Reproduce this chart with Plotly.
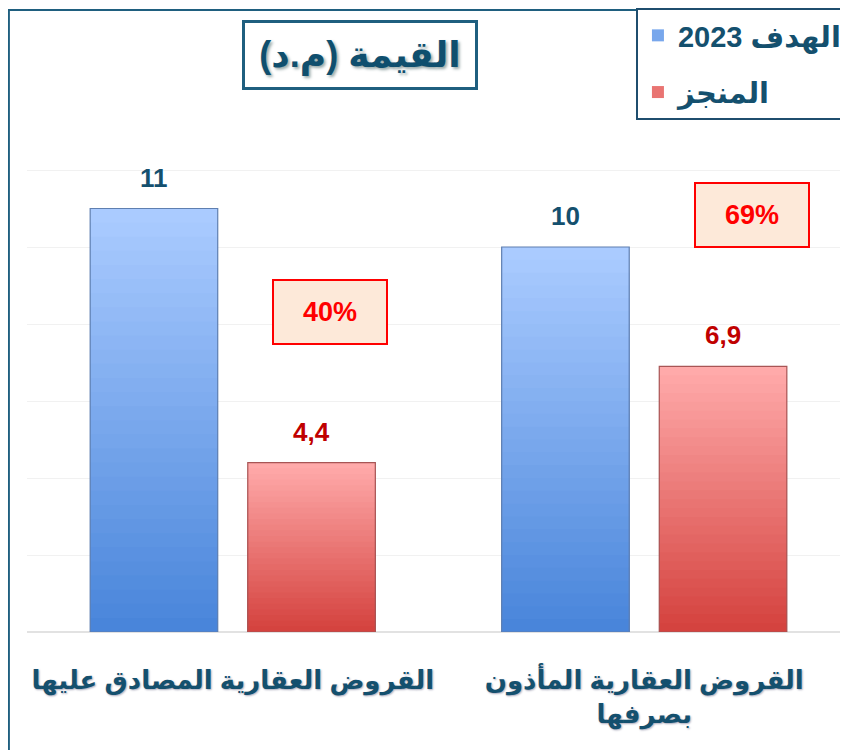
import plotly.graph_objects as go

# ---- data ----
categories = ["القروض العقارية المصادق عليها", "القروض العقارية المأذون<br>بصرفها"]
target_name = "الهدف 2023"
achieved_name = "المنجز"
target_values = [11, 10]
achieved_values = [4.4, 6.9]
title_text = "القيمة (م.د)"

FONT = "Liberation Sans, Arial, DejaVu Sans, sans-serif"
TEAL = "#14506e"

def lerp(c1, c2, t):
    a = [int(c1[i:i + 2], 16) for i in (1, 3, 5)]
    b = [int(c2[i:i + 2], 16) for i in (1, 3, 5)]
    return "rgb(%d,%d,%d)" % tuple(round(a[k] + (b[k] - a[k]) * t) for k in range(3))

idx = list(range(len(categories)))
bar_w = 0.31
gap = 0.073
series = [
    (target_name, target_values, "#aacbff", "#4683d9", "#5f7fb0", -(bar_w + gap / 2), TEAL),
    (achieved_name, achieved_values, "#ffaaaa", "#d33f3b", "#a85555", gap / 2, "#c00000"),
]

fig = go.Figure()
N = 30
for name, vals, light, dark, edge, off, tcol in series:
    for k in range(N):
        f = 1 - k / N
        fig.add_trace(go.Bar(
            x=idx, y=[v * f for v in vals], offset=off, width=bar_w,
            marker=dict(color=lerp(light, dark, 1 - f), line=dict(width=0)),
            name=name, legendgroup=name, showlegend=(k == N // 2),
            hoverinfo="skip",
        ))
    fig.add_trace(go.Bar(
        x=idx, y=vals, offset=off, width=bar_w,
        marker=dict(color="rgba(0,0,0,0)", line=dict(width=1.2, color=edge)),
        name=name, legendgroup=name, showlegend=False,
    ))
    for i, v in zip(idx, vals):
        fig.add_annotation(
            x=i + off + bar_w / 2, y=v, yshift=31, yanchor="middle", xanchor="center",
            text=str(v).replace(".", ","), showarrow=False,
            font=dict(family=FONT, size=26, color=tcol, weight="bold"),
        )

# achievement ratio boxes
ratio_pos = [(0.236, 8.3), (1.262, 10.83)]
for (bx, by), t, a in zip(ratio_pos, target_values, achieved_values):
    fig.add_annotation(
        x=bx, y=by, text="%d%%" % round(a / t * 100), showarrow=False,
        xanchor="center", yanchor="middle",
        font=dict(family=FONT, size=27, color="#ff0000", weight="bold"),
        bgcolor="#fde9d9", bordercolor="#ff0000", borderwidth=2,
        width=110, height=60,
    )

# title box
fig.add_annotation(
    xref="paper", yref="paper", x=0.405, y=1.07, xanchor="center", yanchor="middle",
    text=title_text, showarrow=False,
    font=dict(family=FONT, size=36, color="#0f4f6e", weight="bold",
              shadow="2px 2px 3px #9aa"),
    bordercolor="#1f5f7f", borderwidth=3, borderpad=4, bgcolor="white",
    width=222, height=56,
)

# outer frame
fig.add_shape(type="rect", xref="paper", yref="paper",
              x0=-0.022, y0=-0.5, x1=1.2, y1=1.154,
              line=dict(color="#1f5f7f", width=2), layer="below")

# the page body adds an 8px offset, so the figure is laid out 8px up/left
fig.update_layout(
    width=848, height=750,
    margin=dict(l=19, r=6, t=85, b=126, autoexpand=False),
    paper_bgcolor="white", plot_bgcolor="white",
    barmode="overlay",
    showlegend=True,
    legend=dict(
        xref="container", yref="container",
        x=0.9905, xanchor="right", y=1.0, yanchor="top",
        bgcolor="white", bordercolor="#1f4e6e", borderwidth=2,
        font=dict(family=FONT, size=29, color=TEAL, weight="bold"),
        traceorder="grouped", itemsizing="constant", tracegroupgap=16,
    ),
    xaxis=dict(
        tickmode="array", tickvals=idx, ticktext=categories, range=[-0.5, 1.5],
        showgrid=False, zeroline=False, showline=False, ticks="",
        tickfont=dict(family=FONT, size=26, color=TEAL, weight="bold",
                      shadow="1px 1px 2px #aab"),
        ticklabelstandoff=30,
    ),
    yaxis=dict(
        range=[0, 14], dtick=2, showticklabels=False, ticks="",
        showgrid=True, gridcolor="#f1f1f1", gridwidth=1,
        zeroline=True, zerolinecolor="#e2e2e2", zerolinewidth=1.5,
    ),
)

fig.write_html("out.html")
